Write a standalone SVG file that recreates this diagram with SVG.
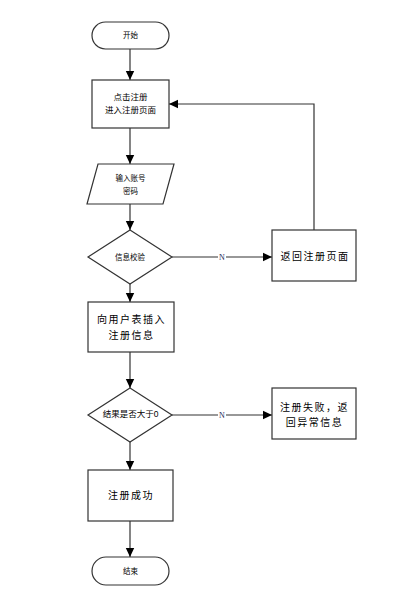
<svg xmlns="http://www.w3.org/2000/svg" width="405" height="591" viewBox="0 0 405 591">
<defs>
<style>
.s{fill:#fff;stroke:#333;stroke-width:1.2}
.t{font-family:"Liberation Sans","Noto Sans CJK SC",sans-serif;fill:#000;text-anchor:middle;dominant-baseline:central}
.sm{font-size:7.5px}
.md{font-size:8.5px}
.lg{font-size:10px;letter-spacing:1.5px}
.c{fill:none;stroke:#333;stroke-width:1.2}
.n{font-family:"Liberation Serif",serif;font-size:8px;fill:#1a2a5a;text-anchor:middle;dominant-baseline:central}
</style>
<marker id="a" markerWidth="10" markerHeight="10" refX="9" refY="5" orient="auto" markerUnits="userSpaceOnUse">
<path d="M0,0.8 L9,5 L0,9.2 Z" fill="#000"/>
</marker>
</defs>
<rect width="405" height="591" fill="#fff"/>
<g id="connectors">
<path class="c" d="M130,49 V80" marker-end="url(#a)"/>
<path class="c" d="M130,128 V164" marker-end="url(#a)"/>
<path class="c" d="M130,204 V230" marker-end="url(#a)"/>
<path class="c" d="M172,257 H272" marker-end="url(#a)"/>
<path class="c" d="M314,230 V104 H169" marker-end="url(#a)"/>
<path class="c" d="M130,284 V302" marker-end="url(#a)"/>
<path class="c" d="M130,352 V388" marker-end="url(#a)"/>
<path class="c" d="M172,415 H272" marker-end="url(#a)"/>
<path class="c" d="M130,442 V470" marker-end="url(#a)"/>
<path class="c" d="M130,521 V557" marker-end="url(#a)"/>
<rect x="218" y="252" width="8" height="10" fill="#fff"/>
<text class="n" x="222" y="257">N</text>
<rect x="218" y="410" width="8" height="10" fill="#fff"/>
<text class="n" x="222" y="415">N</text>
</g>
<g id="start">
<rect class="s" x="92" y="22" width="77" height="27" rx="13.5"/>
<text class="t sm" x="130.5" y="35.5">开始</text>
</g>
<g id="click-register">
<rect class="s" x="92" y="80" width="77" height="48"/>
<text class="t md" x="130.5" y="97">点击注册</text>
<text class="t md" x="130.5" y="110">进入注册页面</text>
</g>
<g id="input">
<polygon class="s" points="98,164 174,164 163,204 87,204"/>
<text class="t sm" x="130.5" y="178">输入账号</text>
<text class="t sm" x="130.5" y="191">密码</text>
</g>
<g id="verify">
<polygon class="s" points="130,230 172,257 130,284 88,257"/>
<text class="t sm" x="130" y="257">信息校验</text>
</g>
<g id="return-page">
<rect class="s" x="272" y="230" width="84" height="51"/>
<text class="t lg" x="315" y="256">返回注册页面</text>
</g>
<g id="insert">
<rect class="s" x="88" y="302" width="86" height="50"/>
<text class="t lg" x="131.5" y="319">向用户表插入</text>
<text class="t lg" x="131.5" y="335">注册信息</text>
</g>
<g id="check">
<polygon class="s" points="130,388 172,415 130,442 88,415"/>
<text class="t md" x="130.5" y="414">结果是否大于0</text>
</g>
<g id="fail">
<rect class="s" x="272" y="388" width="84" height="51"/>
<text class="t lg" x="314.5" y="407">注册失败，返</text>
<text class="t lg" x="314.5" y="422">回异常信息</text>
</g>
<g id="success">
<rect class="s" x="88" y="470" width="85" height="51"/>
<text class="t lg" x="131" y="495">注册成功</text>
</g>
<g id="end">
<rect class="s" x="92" y="557" width="77" height="28" rx="14"/>
<text class="t sm" x="130.5" y="571">结束</text>
</g>
</svg>
